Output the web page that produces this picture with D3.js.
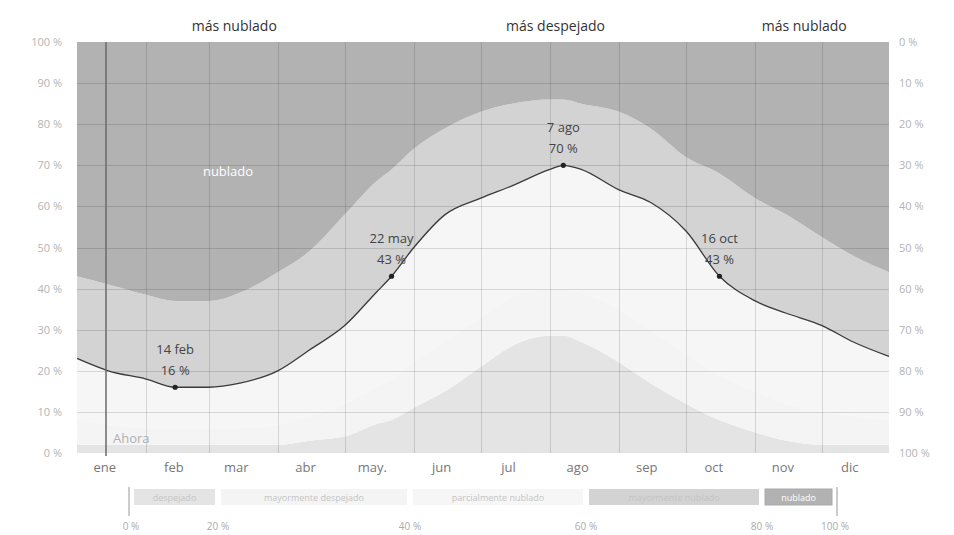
<!DOCTYPE html>
<html lang="es">
<head>
<meta charset="utf-8">
<title>Categorías de nubosidad</title>
<script src="https://cdn.jsdelivr.net/npm/d3@7"></script>
<style>
  html, body { margin: 0; padding: 0; background: #fff; }
  svg { display: block; font-family: "Open Sans", "Noto Sans", sans-serif; }
</style>
</head>
<body>
<svg id="chart" width="954" height="535"></svg>
<script>
// Fechas de muestreo (año completo)
const dates = ["2023-01-01","2023-01-15","2023-02-01","2023-02-14","2023-03-01","2023-03-15",
  "2023-04-01","2023-04-15","2023-05-01","2023-05-15","2023-05-22","2023-06-01","2023-06-15",
  "2023-07-01","2023-07-15","2023-08-01","2023-08-07","2023-08-15","2023-09-01","2023-09-15",
  "2023-10-01","2023-10-16","2023-11-01","2023-11-15","2023-12-01","2023-12-15","2023-12-31"];

// Porcentaje del tiempo en cada categoría de nubosidad (%)
const despejado            = [2, 2, 2, 2, 2, 2, 2, 3, 4, 7, 8, 11, 15, 21, 26, 28.5, 28.5, 27, 22, 17, 12, 8, 5, 3, 2, 2, 2];
const mayormenteDespejado  = [6, 5, 4, 4, 4, 4, 5, 6, 8, 9, 10, 11, 12, 12, 12, 11.5, 11.5, 12, 13, 13, 12, 11, 10, 9, 8, 7, 6];
const parcialmenteNublado  = [15, 13, 12, 10, 10, 11, 13, 16, 19, 23, 25, 28, 31, 29, 27, 29, 30, 30, 29, 31, 30, 24, 22, 22, 21, 18, 15.5];
const mayormenteNublado    = [20, 21, 20.5, 21, 21, 22, 24, 24, 27, 27, 26, 24, 21, 21, 20, 17, 16, 16, 19, 18, 18, 25, 25, 24, 21.5, 21, 20.5];
const nublado              = [57, 59, 61.5, 63, 63, 61, 56, 51, 42, 34, 31, 26, 21, 17, 15, 14, 14, 15, 17, 21, 28, 32, 38, 42, 47.5, 52, 56];

// Categorías y leyenda
const categorias = ["despejado", "mayormente despejado", "parcialmente nublado", "mayormente nublado", "nublado"];
const coloresCategoria = ["#e4e4e4", "#f4f4f4", "#f6f6f6", "#d3d3d3", "#b2b2b2"];
const limitesLeyenda = [0, 20, 40, 60, 80, 100];

// Etiquetas de ejes
const meses = ["ene", "feb", "mar", "abr", "may.", "jun", "jul", "ago", "sep", "oct", "nov", "dic"];
const ticksPorcentaje = [0, 10, 20, 30, 40, 50, 60, 70, 80, 90, 100];

// Puntos destacados sobre la línea
const destacados = [
  { fecha: "2023-02-14", texto: "14 feb", valor: 16 },
  { fecha: "2023-05-22", texto: "22 may", valor: 43 },
  { fecha: "2023-08-07", texto: "7 ago",  valor: 70 },
  { fecha: "2023-10-16", texto: "16 oct", valor: 43 }
];

// Etiquetas de temporada en la parte superior
const temporadas = [
  { inicio: "2023-01-01", fin: "2023-05-22", texto: "más nublado" },
  { inicio: "2023-05-22", fin: "2023-10-16", texto: "más despejado" },
  { inicio: "2023-10-16", fin: "2023-12-31", texto: "más nublado" }
];
const fechaAhora = "2023-01-14";

// ---------------------------------------------------------------------------
const parse = d3.timeParse("%Y-%m-%d");
const series = [despejado, mayormenteDespejado, parcialmenteNublado, mayormenteNublado, nublado];
const tabla = dates.map((d, i) => {
  const row = { fecha: parse(d) };
  categorias.forEach((c, k) => row[c] = series[k][i]);
  return row;
});

const svg = d3.select("#chart");
const x = d3.scaleTime().domain([parse("2023-01-01"), parse("2023-12-31")]).range([77, 889]);
const y = d3.scaleLinear().domain([0, 100]).range([453, 42]);
const yDer = d3.scaleLinear().domain([100, 0]).range([453, 42]);

const apilado = d3.stack().keys(categorias)(tabla);
const area = d3.area()
  .x(d => x(d.data.fecha))
  .y0(d => y(d[0]))
  .y1(d => y(d[1]))
  .curve(d3.curveMonotoneX);

// Bandas de nubosidad
svg.append("g").selectAll("path")
  .data(apilado)
  .join("path")
  .attr("d", area)
  .attr("fill", (d, i) => coloresCategoria[i]);

// Cuadrícula
const grid = svg.append("g").attr("stroke", "rgba(0,0,0,0.13)").attr("stroke-width", 1);
grid.selectAll("line.h")
  .data(ticksPorcentaje.filter(t => t > 0 && t < 100))
  .join("line")
  .attr("x1", 77).attr("x2", 889)
  .attr("y1", d => Math.round(y(d)) + 0.5).attr("y2", d => Math.round(y(d)) + 0.5);
const inicioMeses = d3.timeMonth.range(parse("2023-02-01"), parse("2023-12-02"));
grid.selectAll("line.v")
  .data(inicioMeses)
  .join("line")
  .attr("x1", d => Math.round(x(d)) + 0.5).attr("x2", d => Math.round(x(d)) + 0.5)
  .attr("y1", 42).attr("y2", 453);

// Línea: despejado + mayormente despejado + parcialmente nublado
const linea = d3.line()
  .x(d => x(d.data.fecha))
  .y(d => y(d[1]))
  .curve(d3.curveMonotoneX);
svg.append("path")
  .datum(apilado[2])
  .attr("d", linea)
  .attr("fill", "none")
  .attr("stroke", "#3a3a3a")
  .attr("stroke-width", 1.3);

// Línea de "Ahora"
svg.append("line")
  .attr("x1", x(parse(fechaAhora))).attr("x2", x(parse(fechaAhora)))
  .attr("y1", 42).attr("y2", 456)
  .attr("stroke", "#6a6a6a").attr("stroke-width", 1.5);
svg.append("text")
  .attr("x", x(parse(fechaAhora)) + 7).attr("y", 443)
  .attr("font-size", 13).attr("fill", "#b0b0b0")
  .text("Ahora");

// Etiqueta de banda
svg.append("text")
  .attr("x", 228).attr("y", 176)
  .attr("text-anchor", "middle")
  .attr("font-size", 13).attr("fill", "#ffffff")
  .text("nublado");

// Ejes
const ejeIzq = d3.axisLeft(y).tickValues(ticksPorcentaje).tickSize(0).tickPadding(8).tickFormat(d => d + " %");
const ejeDer = d3.axisRight(yDer).tickValues(ticksPorcentaje).tickSize(0).tickPadding(10).tickFormat(d => d + " %");
const gIzq = svg.append("g").attr("transform", "translate(70,0)").call(ejeIzq);
const gDer = svg.append("g").attr("transform", "translate(889,0)").call(ejeDer);
[gIzq, gDer].forEach(g => {
  g.select(".domain").remove();
  g.selectAll("text").attr("font-size", 11).attr("fill", "#b4b4b4")
    .attr("font-family", "\"Open Sans\", sans-serif");
});

const mitadMeses = d3.timeMonth.range(parse("2023-01-01"), parse("2024-01-01"))
  .map(d => new Date(d.getFullYear(), d.getMonth(), 15));
const ejeX = d3.axisBottom(x).tickValues(mitadMeses).tickSize(0).tickPadding(8)
  .tickFormat((d, i) => meses[i]);
const gX = svg.append("g").attr("transform", "translate(-4,455)").call(ejeX);
gX.select(".domain").remove();
gX.selectAll("text").attr("font-size", 13).attr("fill", "#777")
  .attr("font-family", "\"Open Sans\", sans-serif");

// Etiquetas de temporada
svg.append("g").selectAll("text")
  .data(temporadas)
  .join("text")
  .attr("x", d => (x(parse(d.inicio)) + x(parse(d.fin))) / 2)
  .attr("y", 31)
  .attr("text-anchor", "middle")
  .attr("font-size", 14).attr("fill", "#333")
  .text(d => d.texto);

// Puntos destacados
const gDest = svg.append("g");
gDest.selectAll("circle")
  .data(destacados)
  .join("circle")
  .attr("cx", d => x(parse(d.fecha)))
  .attr("cy", d => y(d.valor))
  .attr("r", 2.6)
  .attr("fill", "#222");
gDest.selectAll("text.fecha")
  .data(destacados)
  .join("text")
  .attr("class", "fecha")
  .attr("x", d => x(parse(d.fecha)))
  .attr("y", d => y(d.valor) - 33)
  .attr("text-anchor", "middle")
  .attr("font-size", 13).attr("fill", "#444")
  .text(d => d.texto);
gDest.selectAll("text.valor")
  .data(destacados)
  .join("text")
  .attr("class", "valor")
  .attr("x", d => x(parse(d.fecha)))
  .attr("y", d => y(d.valor) - 12)
  .attr("text-anchor", "middle")
  .attr("font-size", 13).attr("fill", "#444")
  .text(d => d.valor + " %");

// Leyenda
const xLey = d3.scaleLinear().domain(limitesLeyenda).range([131, 218, 410, 586, 762, 835]);
const gLey = svg.append("g");
gLey.selectAll("rect")
  .data(categorias)
  .join("rect")
  .attr("x", (d, i) => xLey(limitesLeyenda[i]) + 3)
  .attr("y", 489)
  .attr("width", (d, i) => xLey(limitesLeyenda[i + 1]) - xLey(limitesLeyenda[i]) - 6)
  .attr("height", 16)
  .attr("fill", (d, i) => coloresCategoria[i])
  .attr("stroke", (d, i) => i === 4 ? "#aaa" : "none");
gLey.selectAll("text.cat")
  .data(categorias)
  .join("text")
  .attr("class", "cat")
  .attr("x", (d, i) => (xLey(limitesLeyenda[i]) + xLey(limitesLeyenda[i + 1])) / 2)
  .attr("y", 501)
  .attr("text-anchor", "middle")
  .attr("font-size", 9).attr("fill", (d, i) => i === 4 ? "#fff" : "#c4c4c4")
  .text(d => d);
gLey.selectAll("line")
  .data([0, 100])
  .join("line")
  .attr("x1", d => xLey(d) + (d === 0 ? -2 : 2)).attr("x2", d => xLey(d) + (d === 0 ? -2 : 2))
  .attr("y1", 487).attr("y2", 516)
  .attr("stroke", "#999").attr("stroke-width", 1);
gLey.selectAll("text.lim")
  .data(limitesLeyenda)
  .join("text")
  .attr("class", "lim")
  .attr("x", d => xLey(d))
  .attr("y", 530)
  .attr("text-anchor", "middle")
  .attr("font-size", 10).attr("fill", "#aaa")
  .text(d => d + " %");
</script>
</body>
</html>
